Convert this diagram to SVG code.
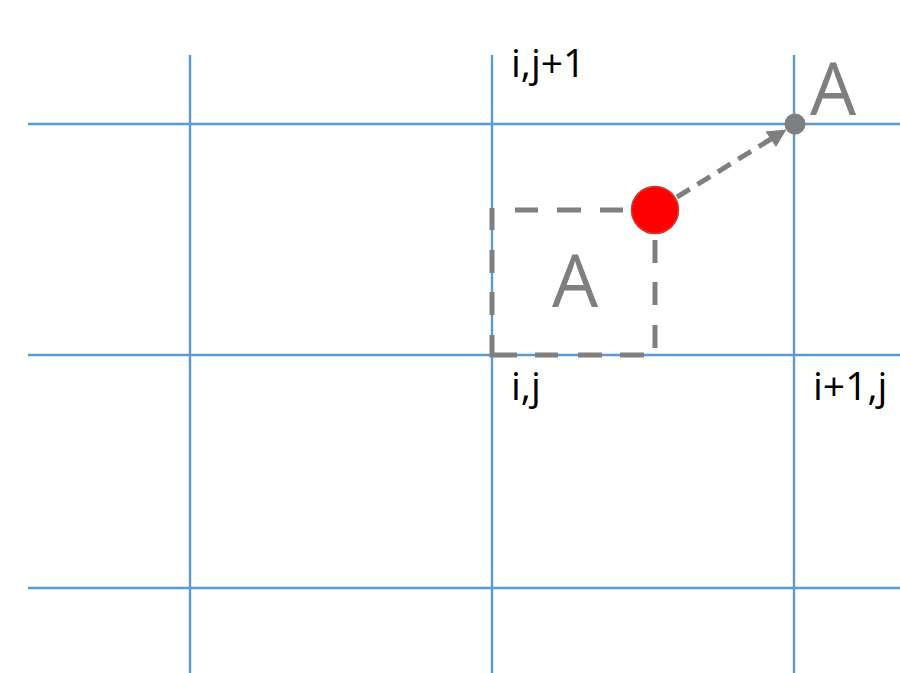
<svg xmlns="http://www.w3.org/2000/svg" width="900" height="673" viewBox="0 0 900 673">
<style>
.grid{stroke:#5B9BD5;stroke-width:2.4;fill:none}
.dash{stroke:#7F7F7F;stroke-width:5;fill:none;stroke-linecap:butt;stroke-linejoin:miter}
.lbl{font-family:"Open Sans","Liberation Sans",sans-serif;font-size:39px;fill:#000}
.big{font-family:"Open Sans","Liberation Sans",sans-serif;font-size:73px;fill:#7F7F7F}
</style>
<rect width="900" height="673" fill="#fff"/>
<g id="grid">
<path class="grid" d="M190,55V673M492,55V673M794,55V673M28,124H900M28,355H900M28,588H900"/>
</g>
<g id="connectors">
<path id="square" class="dash" d="M655,240V263M655,282V305M655,325V348M644,355H620M602,355H578M558,355H535M517,355H492V335M492,315V292M492,273V250M492,230V208M515,210H538M557,210H581M600,210H623"/>
<path id="arrow" class="dash" d="M677,197L771,139" stroke-dasharray="15 9" stroke-width="5.5"/>
<polygon points="786.5,129.5 765.5,131.5 776,147" fill="#7F7F7F"/>
</g>
<g id="node-red">
<circle cx="655" cy="210" r="23.5" fill="#FF0000" stroke="#D33A2C" stroke-width="1.5"/>
</g>
<g id="node-dot">
<circle cx="795" cy="124" r="10.5" fill="#7F7F7F"/>
</g>
<g id="labels">
<text class="big" x="575" y="307" text-anchor="middle">A</text>
<text class="big" x="833" y="115" text-anchor="middle">A</text>
<text class="lbl" x="511" y="77">i,j+1</text>
<text class="lbl" x="511" y="400">i,j</text>
<text class="lbl" x="813" y="400">i+1,j</text>
</g>
</svg>
